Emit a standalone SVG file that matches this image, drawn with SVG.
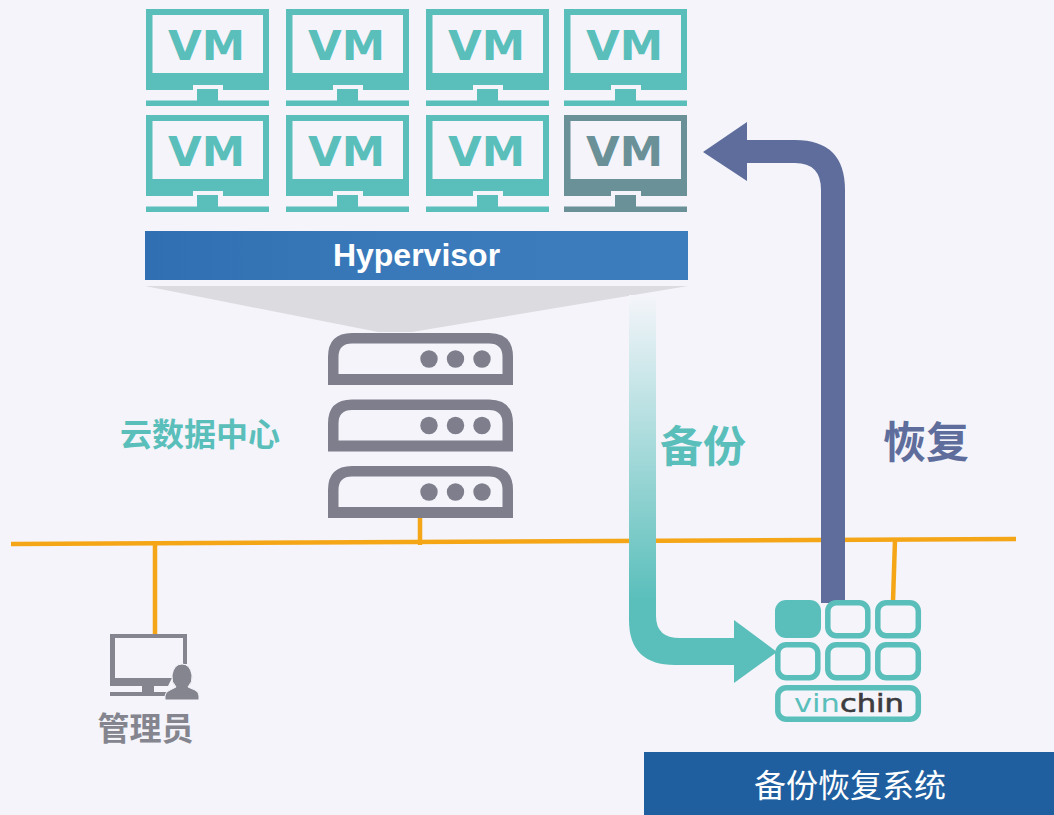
<svg xmlns="http://www.w3.org/2000/svg" width="1054" height="815" viewBox="0 0 1054 815">
<defs>
<linearGradient id="bk" gradientUnits="userSpaceOnUse" x1="0" y1="295" x2="0" y2="600"><stop offset="0" stop-color="#f4f5fa"/><stop offset="1" stop-color="#5abfbb"/></linearGradient>
<linearGradient id="hv" x1="0" y1="0" x2="1" y2="0"><stop offset="0" stop-color="#3070b2"/><stop offset="0.5" stop-color="#3a7aba"/><stop offset="1" stop-color="#3c7dbd"/></linearGradient>
<path id="mon" fill-rule="evenodd" d="M0 0H123V81H77V76H47V81H0ZM6.500 6V64H117V6ZM51 80H72V91.500H123V97H0V91.500H51Z"/>
<path id="srv" fill-rule="evenodd" d="M0 52V24Q0 0 24 0H161Q185 0 185 24V52ZM10.500 41H174.500V24Q174.500 10.500 161 10.500H24Q10.500 10.500 10.500 24Z"/>
<g id="dots"><circle cx="101" cy="26" r="8.700"/><circle cx="127.500" cy="26" r="8.700"/><circle cx="154" cy="26" r="8.700"/></g>
</defs>
<style>
.t{font-family:"Liberation Sans","Noto Sans CJK SC",sans-serif;font-weight:700}
.vm{font-family:"DejaVu Sans",sans-serif;font-weight:700;font-size:41px}
.teal{fill:#5abfbb}
.cell{fill:none;stroke:#5abfbb;stroke-width:5.500}
.srv{fill:#7e7e8c}
.net{stroke:#f5a617;stroke-width:4.500;fill:none}
</style>
<rect width="1054" height="815" fill="#f4f4fa"/>
<g id="vm-1" class="teal"><use href="#mon" x="146" y="9"/><text class="vm" x="168" y="60" textLength="77" lengthAdjust="spacingAndGlyphs">VM</text></g>
<g id="vm-2" class="teal"><use href="#mon" x="286" y="9"/><text class="vm" x="308" y="60" textLength="77" lengthAdjust="spacingAndGlyphs">VM</text></g>
<g id="vm-3" class="teal"><use href="#mon" x="426" y="9"/><text class="vm" x="448" y="60" textLength="77" lengthAdjust="spacingAndGlyphs">VM</text></g>
<g id="vm-4" class="teal"><use href="#mon" x="564" y="9"/><text class="vm" x="586" y="60" textLength="77" lengthAdjust="spacingAndGlyphs">VM</text></g>
<g id="vm-5" class="teal"><use href="#mon" x="146" y="115"/><text class="vm" x="168" y="166" textLength="77" lengthAdjust="spacingAndGlyphs">VM</text></g>
<g id="vm-6" class="teal"><use href="#mon" x="286" y="115"/><text class="vm" x="308" y="166" textLength="77" lengthAdjust="spacingAndGlyphs">VM</text></g>
<g id="vm-7" class="teal"><use href="#mon" x="426" y="115"/><text class="vm" x="448" y="166" textLength="77" lengthAdjust="spacingAndGlyphs">VM</text></g>
<g id="vm-8" fill="#6a9098"><use href="#mon" x="564" y="115"/><text class="vm" x="586" y="166" textLength="77" lengthAdjust="spacingAndGlyphs">VM</text></g>
<g id="hypervisor"><rect x="145" y="231" width="543" height="49" fill="url(#hv)"/><text class="t" x="416.500" y="266" font-size="32" text-anchor="middle" fill="#fff">Hypervisor</text></g>
<polygon id="projection" points="145,286 688,286 412,332 378,332" fill="#dcdce0"/>
<g id="connectors">
<path class="net" d="M11 544L1016 539"/>
<path class="net" d="M155 543V635"/>
<path class="net" d="M420 517V545"/>
<path class="net" d="M895 540L893 601"/>
<path d="M629 295H656V616Q656 638 680 638H734V620L777 652L734 683V665H675Q629 665 629 620Z" fill="url(#bk)"/>
<path d="M821 603V190Q821 163 795 163H747V181L703 152L747 122V140H795Q845 140 845 190V603Z" fill="#5e6d9b"/>
</g>
<g id="server" class="srv">
<g><use href="#srv" x="328" y="333"/><use href="#dots" x="328" y="333"/></g>
<g><use href="#srv" x="328" y="399.500"/><use href="#dots" x="328" y="399.500"/></g>
<g><use href="#srv" x="328" y="466"/><use href="#dots" x="328" y="466"/></g>
</g>
<text id="cloud-label" class="t" x="200" y="446" font-size="32" text-anchor="middle" fill="#5abfbb">云数据中心</text>
<text id="backup-label" class="t" x="703" y="462" font-size="43" text-anchor="middle" fill="#5abfbb">备份</text>
<text id="restore-label" class="t" x="926" y="458" font-size="43" text-anchor="middle" fill="#5e6d9b">恢复</text>
<g id="admin" fill="#85858f">
<path fill-rule="evenodd" d="M110 634H187V664H183V638H115V678H172L168 686H110Z"/>
<rect x="142" y="686" width="12" height="7"/>
<rect x="110" y="692" width="56" height="4"/>
<path d="M165 700V696Q165 692 170 690L176 687Q171 682 172 675Q174 664 182 664Q190 664 192 675Q193 682 188 687L195 690Q199 692 199 696V700Z" stroke="#f4f4fa" stroke-width="1"/>
<text class="t" x="145.500" y="740" font-size="32" text-anchor="middle">管理员</text>
</g>
<g id="vinchin">
<rect x="775" y="600" width="46" height="38" rx="11" fill="#5abfbb"/>
<rect x="827.800" y="602.800" width="40" height="33" rx="8.500" class="cell"/>
<rect x="877.800" y="602.800" width="40.500" height="33" rx="8.500" class="cell"/>
<rect x="777.800" y="644.800" width="40" height="33" rx="8.500" class="cell"/>
<rect x="827.800" y="644.800" width="40" height="33" rx="8.500" class="cell"/>
<rect x="877.800" y="644.800" width="40.500" height="33" rx="8.500" class="cell"/>
<rect x="777.800" y="687.800" width="140.500" height="31.500" rx="8.500" class="cell"/>
<text x="794" y="712" font-family="'DejaVu Sans',sans-serif" font-size="25" textLength="110" lengthAdjust="spacingAndGlyphs"><tspan fill="#5abfbb">vin</tspan><tspan fill="#3c3c40" stroke="#3c3c40" stroke-width="0.6">chin</tspan></text>
</g>
<g id="system-bar"><rect x="644" y="752" width="410" height="63" fill="#1f5f9f"/><text x="850" y="797" font-family="'Liberation Sans','Noto Sans CJK SC',sans-serif" font-size="32" text-anchor="middle" fill="#fff">备份恢复系统</text></g>
</svg>
